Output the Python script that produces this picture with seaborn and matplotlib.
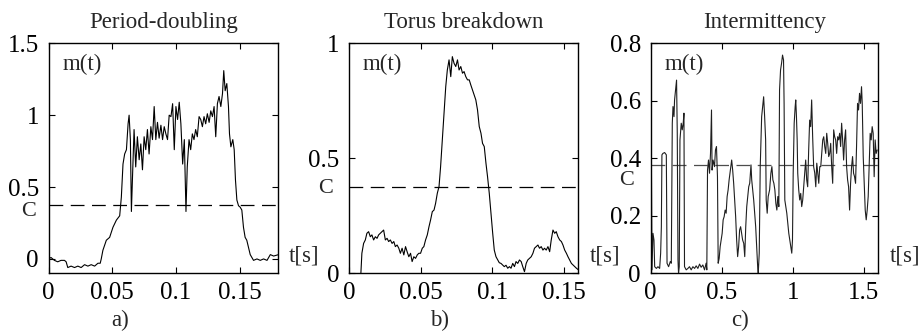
import matplotlib
matplotlib.use("Agg")
import matplotlib.pyplot as plt
import matplotlib.transforms as mtrans
import seaborn as sns
import pandas as pd

# ---------------- data ----------------
C_LEVEL = 0.375

titles = ["Period-doubling", "Torus breakdown", "Intermittency"]
panel_labels = ["a)", "b)", "c)"]

# Panel a: period-doubling
t_a = [0.0000, 0.0018, 0.0045, 0.0071, 0.0097, 0.0124, 0.0137, 0.0150, 0.0176, 0.0203,
       0.0229, 0.0255, 0.0282, 0.0308, 0.0334, 0.0361, 0.0387, 0.0405, 0.0413, 0.0426,
       0.0453, 0.0479, 0.0505, 0.0532, 0.0558, 0.0571, 0.0584, 0.0597, 0.0611, 0.0624,
       0.0632, 0.0642, 0.0650, 0.0658, 0.0671, 0.0684, 0.0697, 0.0711, 0.0724, 0.0737,
       0.0750, 0.0763, 0.0776, 0.0789, 0.0803, 0.0816, 0.0829, 0.0842, 0.0855, 0.0868,
       0.0882, 0.0895, 0.0908, 0.0921, 0.0934, 0.0947, 0.0961, 0.0974, 0.0987, 0.1000,
       0.1013, 0.1026, 0.1039, 0.1053, 0.1066, 0.1079, 0.1089, 0.1103, 0.1116, 0.1129,
       0.1142, 0.1155, 0.1168, 0.1182, 0.1195, 0.1208, 0.1221, 0.1234, 0.1247, 0.1261,
       0.1274, 0.1287, 0.1300, 0.1313, 0.1326, 0.1339, 0.1353, 0.1366, 0.1376, 0.1387,
       0.1400, 0.1413, 0.1421, 0.1432, 0.1447, 0.1458, 0.1468, 0.1479, 0.1492, 0.1505,
       0.1518, 0.1531, 0.1544, 0.1557, 0.1584, 0.1610, 0.1637, 0.1663, 0.1689, 0.1716,
       0.1729, 0.1742, 0.1768, 0.1807]
m_a = [0.00, 0.01, -0.01, -0.02, -0.01, -0.01, -0.02, -0.06, -0.05, -0.06,
       -0.05, -0.06, -0.04, -0.05, -0.04, -0.05, -0.03, -0.03, 0.00, 0.06,
       0.13, 0.15, 0.22, 0.27, 0.30, 0.43, 0.66, 0.73, 0.76, 0.94,
       1.00, 0.83, 0.33, 0.55, 0.90, 0.64, 0.85, 0.69, 0.80, 0.62,
       0.85, 0.76, 0.90, 0.73, 0.92, 0.83, 1.06, 0.83, 0.95, 0.84,
       0.93, 0.83, 0.92, 0.87, 0.83, 1.00, 0.99, 1.08, 0.76, 1.06,
       0.97, 1.09, 0.94, 0.66, 0.83, 0.33, 0.64, 0.83, 0.76, 0.87,
       0.83, 0.90, 0.85, 0.99, 0.97, 0.92, 0.99, 0.94, 1.01, 0.95,
       1.03, 0.99, 1.06, 0.85, 1.08, 1.13, 1.06, 1.15, 1.31, 1.17,
       1.22, 1.06, 0.87, 0.78, 0.83, 0.76, 0.55, 0.41, 0.37, 0.36,
       0.34, 0.22, 0.15, 0.13, 0.03, -0.01, 0.00, -0.01, 0.00, -0.01,
       0.01, 0.03, 0.02, 0.03]

# Panel b: torus breakdown
t_b = [0.0083, 0.0090, 0.0102, 0.0114, 0.0125, 0.0137, 0.0149, 0.0160, 0.0172, 0.0184,
       0.0196, 0.0207, 0.0219, 0.0231, 0.0242, 0.0254, 0.0266, 0.0277, 0.0289, 0.0301,
       0.0313, 0.0324, 0.0336, 0.0348, 0.0359, 0.0371, 0.0383, 0.0395, 0.0406, 0.0418,
       0.0430, 0.0441, 0.0453, 0.0465, 0.0477, 0.0488, 0.0500, 0.0512, 0.0523, 0.0535,
       0.0547, 0.0559, 0.0570, 0.0582, 0.0594, 0.0605, 0.0617, 0.0629, 0.0640, 0.0652,
       0.0664, 0.0676, 0.0687, 0.0699, 0.0711, 0.0722, 0.0734, 0.0746, 0.0758, 0.0769,
       0.0781, 0.0793, 0.0804, 0.0816, 0.0828, 0.0840, 0.0851, 0.0863, 0.0875, 0.0886,
       0.0898, 0.0910, 0.0922, 0.0933, 0.0945, 0.0957, 0.0968, 0.0980, 0.0992, 0.1004,
       0.1015, 0.1027, 0.1039, 0.1050, 0.1062, 0.1074, 0.1085, 0.1097, 0.1109, 0.1121,
       0.1132, 0.1144, 0.1156, 0.1167, 0.1179, 0.1191, 0.1203, 0.1214, 0.1226, 0.1238,
       0.1249, 0.1261, 0.1273, 0.1285, 0.1296, 0.1308, 0.1320, 0.1331, 0.1343, 0.1355,
       0.1366, 0.1378, 0.1390, 0.1402, 0.1413, 0.1425, 0.1437, 0.1448, 0.1460, 0.1472,
       0.1484, 0.1495, 0.1507, 0.1519, 0.1530, 0.1542, 0.1554, 0.1566, 0.1577, 0.1589,
       0.1605]
m_b = [0.000, 0.087, 0.130, 0.145, 0.174, 0.181, 0.159, 0.167, 0.145, 0.159,
       0.152, 0.167, 0.174, 0.181, 0.188, 0.145, 0.152, 0.138, 0.145, 0.130,
       0.138, 0.116, 0.123, 0.109, 0.087, 0.109, 0.080, 0.116, 0.094, 0.072,
       0.087, 0.051, 0.072, 0.065, 0.080, 0.087, 0.087, 0.109, 0.116, 0.145,
       0.167, 0.203, 0.232, 0.268, 0.275, 0.304, 0.348, 0.377, 0.464, 0.580,
       0.696, 0.812, 0.884, 0.928, 0.855, 0.942, 0.913, 0.899, 0.928, 0.884,
       0.899, 0.870, 0.877, 0.855, 0.841, 0.841, 0.819, 0.797, 0.775, 0.754,
       0.710, 0.638, 0.609, 0.565, 0.551, 0.478, 0.420, 0.348, 0.261, 0.174,
       0.101, 0.072, 0.058, 0.046, 0.043, 0.036, 0.029, 0.035, 0.022, 0.029,
       0.022, 0.043, 0.029, 0.051, 0.043, 0.058, 0.051, 0.029, 0.007, 0.043,
       0.058, 0.065, 0.072, 0.087, 0.109, 0.116, 0.123, 0.109, 0.116, 0.101,
       0.109, 0.101, 0.116, 0.094, 0.145, 0.188, 0.174, 0.181, 0.159, 0.145,
       0.138, 0.123, 0.101, 0.087, 0.072, 0.058, 0.043, 0.036, 0.029, 0.022,
       0.014]

# Panel c: intermittency
t_c = [0.005, 0.009, 0.016, 0.023, 0.028, 0.040, 0.051, 0.063, 0.070, 0.075,
       0.079, 0.086, 0.098, 0.110, 0.115, 0.126, 0.138, 0.145, 0.152, 0.157,
       0.164, 0.168, 0.175, 0.182, 0.187, 0.192, 0.196, 0.201, 0.206, 0.215,
       0.222, 0.229, 0.234, 0.238, 0.250, 0.262, 0.273, 0.285, 0.297, 0.309,
       0.320, 0.332, 0.344, 0.355, 0.367, 0.379, 0.390, 0.395, 0.400, 0.407,
       0.414, 0.421, 0.428, 0.432, 0.439, 0.449, 0.456, 0.463, 0.470, 0.475,
       0.482, 0.489, 0.496, 0.503, 0.510, 0.517, 0.524, 0.531, 0.538, 0.545,
       0.552, 0.561, 0.570, 0.577, 0.584, 0.591, 0.598, 0.605, 0.612, 0.619,
       0.626, 0.633, 0.640, 0.647, 0.655, 0.662, 0.669, 0.676, 0.683, 0.690,
       0.697, 0.706, 0.711, 0.718, 0.725, 0.732, 0.739, 0.746, 0.753, 0.757,
       0.764, 0.771, 0.781, 0.788, 0.795, 0.802, 0.809, 0.813, 0.820, 0.827,
       0.837, 0.846, 0.853, 0.860, 0.867, 0.874, 0.881, 0.888, 0.895, 0.902,
       0.907, 0.914, 0.921, 0.928, 0.935, 0.939, 0.944, 0.951, 0.958, 0.965,
       0.972, 0.979, 0.986, 0.993, 0.998, 1.003, 1.010, 1.017, 1.021, 1.026,
       1.031, 1.035, 1.042, 1.049, 1.056, 1.063, 1.070, 1.077, 1.084, 1.091,
       1.098, 1.105, 1.112, 1.119, 1.126, 1.133, 1.140, 1.147, 1.155, 1.162,
       1.169, 1.176, 1.183, 1.190, 1.197, 1.204, 1.211, 1.218, 1.225, 1.232,
       1.239, 1.246, 1.253, 1.260, 1.267, 1.274, 1.281, 1.288, 1.295, 1.302,
       1.309, 1.316, 1.323, 1.330, 1.337, 1.344, 1.351, 1.358, 1.365, 1.372,
       1.379, 1.386, 1.393, 1.400, 1.407, 1.414, 1.421, 1.428, 1.435, 1.442,
       1.449, 1.456, 1.463, 1.470, 1.477, 1.484, 1.489, 1.496, 1.503, 1.510,
       1.517, 1.524, 1.531, 1.538, 1.545, 1.552, 1.559, 1.566, 1.573, 1.580,
       1.587, 1.594]
m_c = [0.371, 0.012, 0.139, 0.116, 0.023, 0.017, 0.023, 0.017, 0.070, 0.162,
       0.412, 0.417, 0.420, 0.412, 0.035, 0.023, 0.041, 0.035, 0.522, 0.580,
       0.545, 0.603, 0.638, 0.672, 0.487, 0.046, 0.000, 0.023, 0.464, 0.522,
       0.499, 0.522, 0.557, 0.023, 0.012, 0.017, 0.023, 0.012, 0.023, 0.017,
       0.026, 0.017, 0.032, 0.021, 0.029, 0.012, 0.035, 0.012, 0.359, 0.394,
       0.348, 0.417, 0.568, 0.359, 0.394, 0.371, 0.429, 0.441, 0.336, 0.035,
       0.052, 0.093, 0.116, 0.139, 0.186, 0.197, 0.220, 0.209, 0.267, 0.290,
       0.325, 0.359, 0.394, 0.359, 0.313, 0.255, 0.197, 0.116, 0.058, 0.093,
       0.151, 0.162, 0.139, 0.116, 0.104, 0.058, 0.162, 0.232, 0.267, 0.301,
       0.313, 0.377, 0.325, 0.290, 0.255, 0.209, 0.162, 0.093, 0.023, 0.000,
       0.070, 0.371, 0.545, 0.580, 0.614, 0.545, 0.464, 0.255, 0.209, 0.267,
       0.290, 0.348, 0.371, 0.325, 0.313, 0.290, 0.243, 0.220, 0.267, 0.232,
       0.638, 0.707, 0.730, 0.759, 0.742, 0.591, 0.255, 0.232, 0.209, 0.174,
       0.139, 0.116, 0.093, 0.070, 0.116, 0.348, 0.522, 0.580, 0.603, 0.545,
       0.464, 0.348, 0.290, 0.255, 0.278, 0.232, 0.255, 0.301, 0.348, 0.394,
       0.325, 0.301, 0.429, 0.533, 0.510, 0.603, 0.475, 0.371, 0.348, 0.301,
       0.383, 0.348, 0.313, 0.371, 0.371, 0.417, 0.464, 0.475, 0.441, 0.417,
       0.487, 0.452, 0.406, 0.417, 0.452, 0.371, 0.313, 0.499, 0.475, 0.464,
       0.417, 0.475, 0.464, 0.487, 0.441, 0.522, 0.464, 0.394, 0.464, 0.499,
       0.371, 0.325, 0.301, 0.220, 0.313, 0.371, 0.406, 0.348, 0.336, 0.313,
       0.441, 0.591, 0.568, 0.626, 0.591, 0.649, 0.591, 0.406, 0.313, 0.220,
       0.186, 0.220, 0.267, 0.383, 0.487, 0.464, 0.510, 0.487, 0.336, 0.464,
       0.417, 0.429]

times = [t_a, t_b, t_c]
signals = [m_a, m_b, m_c]

xlims = [(0, 0.18), (0, 0.16), (0, 1.6)]
ylims = [(-0.1, 1.5), (0, 1.0), (0, 0.8)]
xticks = [[0, 0.05, 0.1, 0.15], [0, 0.05, 0.1, 0.15], [0, 0.5, 1, 1.5]]
xticklabels = [["0", "0.05", "0.1", "0.15"], ["0", "0.05", "0.1", "0.15"], ["0", "0.5", "1", "1.5"]]
yticks = [[0, 0.5, 1, 1.5], [0, 0.5, 1], [0, 0.2, 0.4, 0.6, 0.8]]
yticklabels = [["0", "0.5", "1", "1.5"], ["0", "0.5", "1"], ["0", "0.2", "0.4", "0.6", "0.8"]]

# ---------------- style ----------------
sns.set_theme(style="ticks")
plt.rcParams["font.family"] = ["Liberation Serif", "DejaVu Serif"]

W, H = 923, 336
fig = plt.figure(figsize=(W / 100, H / 100), dpi=100)

# axes rectangles in pixels (left, top, right, bottom)
rects_px = [(48.7, 43.3, 277.7, 273.3), (349.0, 43.3, 578.0, 273.3), (650.7, 43.3, 878.0, 273.3)]
c_offsets_px = [(-13, -6), (-16, -1), (-17, -15)]
label_x_px = [120, 440, 740]
trace_colors = ["black", "black", "0.12"]
dash_colors = ["black", "black", "0.3"]

TICK_FS = 18
TEXT_FS = 16.5
C_FS = 16

for i in range(3):
    l, t, r, b = rects_px[i]
    ax = fig.add_axes([l / W, 1 - b / H, (r - l) / W, (b - t) / H])
    df = pd.DataFrame({"t": times[i], "m": signals[i]})
    ax.axhline(C_LEVEL, color=dash_colors[i], lw=0.9, ls=(0, (11, 6)), zorder=1)
    sns.lineplot(data=df, x="t", y="m", ax=ax, color=trace_colors[i], lw=0.8,
                 estimator=None, sort=False, zorder=2)
    ax.set_xlim(*xlims[i])
    ax.set_ylim(*ylims[i])
    ax.set_xticks(xticks[i])
    ax.set_xticklabels(xticklabels[i])
    ax.set_yticks(yticks[i])
    ax.set_yticklabels(yticklabels[i])
    ax.set_xlabel("")
    ax.set_ylabel("")
    ax.tick_params(direction="in", top=True, right=True, length=4, width=0.8,
                   labelsize=TICK_FS, colors="black", pad=6)
    ax.tick_params(axis="y", pad=7)
    for sp in ax.spines.values():
        sp.set_color("black")
        sp.set_linewidth(1.0)
    ax.set_title(titles[i], fontsize=TEXT_FS, pad=11)
    ax.text(0.06, 0.91, "m(t)", transform=ax.transAxes, fontsize=TEXT_FS,
            ha="left", va="center")
    ax.text(1.05, 0.075, "t[s]", transform=ax.transAxes, fontsize=TEXT_FS,
            ha="left", va="center")
    dx, dy = c_offsets_px[i]
    trans = mtrans.offset_copy(ax.get_yaxis_transform(), fig=fig, x=dx * 0.72, y=dy * 0.72,
                               units="points")
    ax.text(0, C_LEVEL, "C", transform=trans, fontsize=C_FS, ha="right", va="center")
    fig.text(label_x_px[i] / W, 1 - 320 / H, panel_labels[i], fontsize=TEXT_FS,
             ha="center", va="center")

fig.savefig("out.png", dpi=100)
